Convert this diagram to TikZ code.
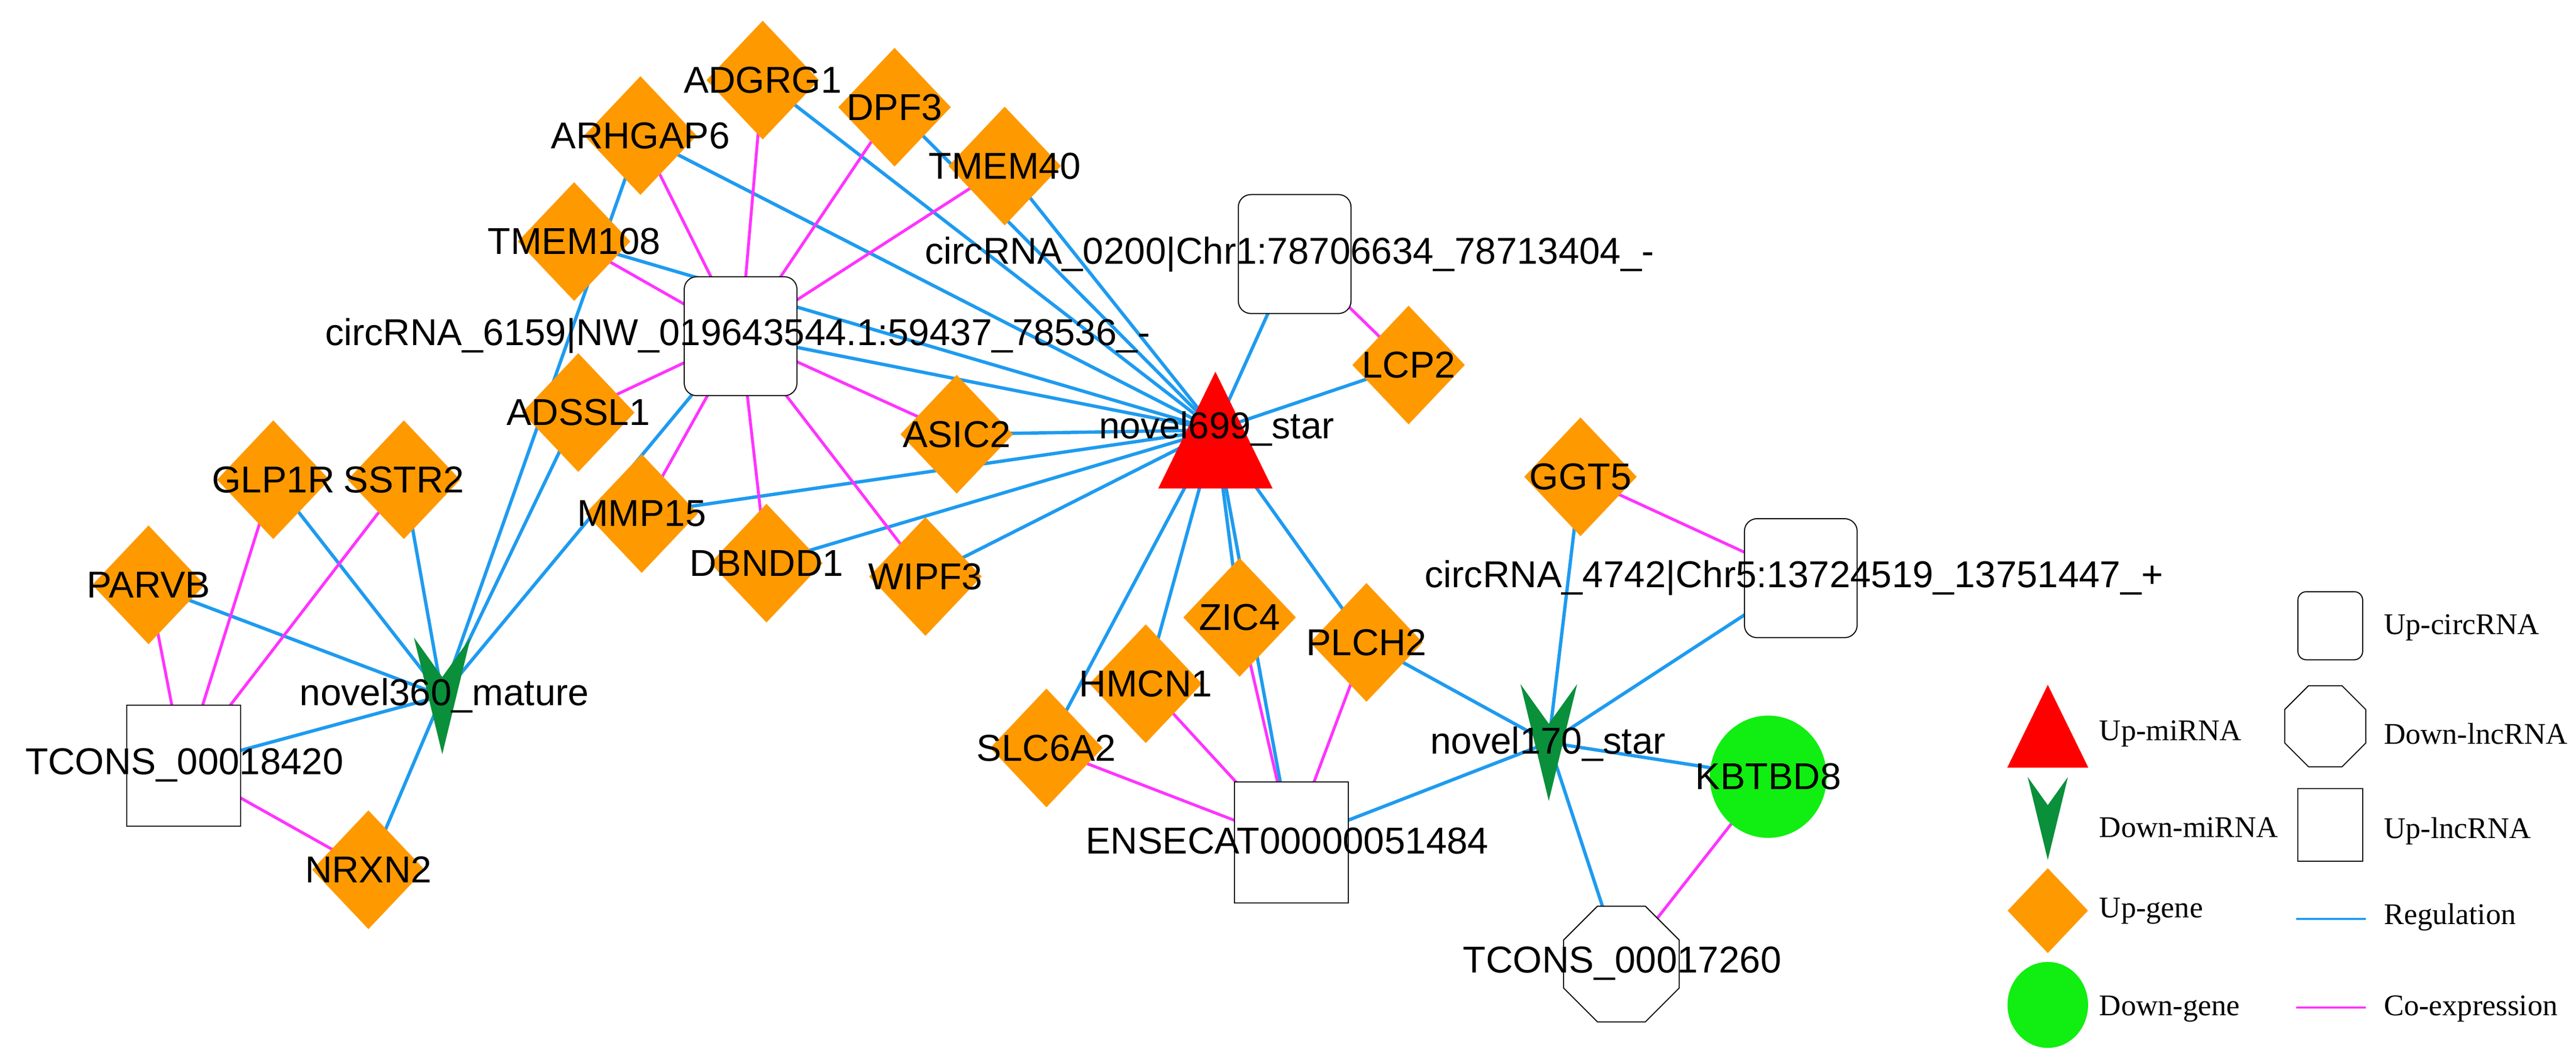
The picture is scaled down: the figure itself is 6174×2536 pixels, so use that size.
\documentclass[tikz,border=0pt]{standalone}
\usepackage{fontspec}
\setmainfont{Liberation Sans}
\newfontfamily\legendfont{Liberation Serif}
\usetikzlibrary{shapes.geometric, backgrounds}
\definecolor{geneorange}{HTML}{FF9900}
\definecolor{downgene}{HTML}{11EE11}
\definecolor{upred}{HTML}{FF0000}
\definecolor{downgreen}{HTML}{0A8F3A}
\definecolor{regblue}{HTML}{1E9BF0}
\definecolor{coexpink}{HTML}{FF33FF}
\tikzstyle{gene} = [diamond, 
fill=geneorange, 
minimum width=2.7cm, 
minimum height=2.85cm, 
inner sep=0pt]
\tikzstyle{dgene} = [ellipse, 
fill=downgene, 
minimum width=2.8cm, 
minimum height=2.93cm, 
inner sep=0pt]
\tikzstyle{circ} = [rectangle, 
rounded corners=0.3cm, 
draw=black, 
line width=0.025cm, 
fill=white, 
minimum width=2.7cm, 
minimum height=2.85cm]
\tikzstyle{lncup} = [rectangle, 
draw=black, 
line width=0.025cm, 
fill=white, 
minimum width=2.73cm, 
minimum height=2.9cm]
\tikzstyle{lncdown} = [regular polygon, 
regular polygon sides=8, 
draw=black, 
line width=0.025cm, 
fill=white, 
minimum size=3cm]
\tikzstyle{mirna} = [inner sep=0pt, minimum size=0pt]
\tikzstyle{lbl} = [font=\fontsize{25.5}{28}\selectfont, inner sep=0pt]
\tikzstyle{leg} = [font=\legendfont\fontsize{20.5}{24}\selectfont, inner sep=0pt, anchor=west]
\tikzstyle{reg} = [line width=0.08cm, draw=regblue]
\tikzstyle{coex} = [line width=0.07cm, draw=coexpink]
\tikzset{upmirna/.pic={\fill[upred] (-137,140) -- (137,140) -- (0,-140) -- cycle;},
  downmirna/.pic={\fill[downgreen] (-68,-140) -- (0,-45) -- (68,-140) -- (0,140) -- cycle;}}

\begin{document}
\begin{tikzpicture}[x=0.01cm, y=-0.01cm]
    \useasboundingbox (0,0) rectangle (6174,2536);
    % miRNAs
    \node (n699) [mirna] at (2913,1031) {};
    \pic at (n699) {upmirna};
    \node (n360) [mirna] at (1060,1668) {};
    \pic at (n360) {downmirna};
    \node (n170) [mirna] at (3712,1780) {};
    \pic at (n170) {downmirna};

    % circRNAs and lncRNAs
    \node (c6159) [circ] at (1775,806) {};
    \node (c0200) [circ] at (3103,609) {};
    \node (c4742) [circ] at (4316,1386) {};
    \node (t18420) [lncup] at (440,1836) {};
    \node (ensecat) [lncup] at (3095,2019) {};
    \node (t17260) [lncdown] at (3886,2311) {};

    % genes
    \node (arhgap6) [gene] at (1535,325) {};
    \node (adgrg1) [gene] at (1828,192) {};
    \node (dpf3) [gene] at (2144,257) {};
    \node (tmem40) [gene] at (2408,398) {};
    \node (tmem108) [gene] at (1376,579) {};
    \node (adssl1) [gene] at (1386,989) {};
    \node (asic2) [gene] at (2293,1041) {};
    \node (mmp15) [gene] at (1538,1231) {};
    \node (dbndd1) [gene] at (1837,1350) {};
    \node (wipf3) [gene] at (2218,1382) {};
    \node (glp1r) [gene] at (655,1150) {};
    \node (sstr2) [gene] at (968,1150) {};
    \node (parvb) [gene] at (356,1402) {};
    \node (nrxn2) [gene] at (883,2085) {};
    \node (lcp2) [gene] at (3376,875) {};
    \node (ggt5) [gene] at (3788,1143) {};
    \node (plch2) [gene] at (3275,1540) {};
    \node (zic4) [gene] at (2971,1480) {};
    \node (hmcn1) [gene] at (2746,1639) {};
    \node (slc6a2) [gene] at (2508,1793) {};
    \node (kbtbd8) [dgene] at (4238,1862) {};

    \begin{scope}[on background layer]
    \foreach \g in {arhgap6,adgrg1,dpf3,tmem40,tmem108,c6159,asic2,mmp15,dbndd1,wipf3,c0200,lcp2,zic4,hmcn1,slc6a2,ensecat,plch2}
        \draw [reg] (n699.center) -- (\g.center);
    \foreach \g in {parvb,glp1r,sstr2,t18420,nrxn2,arhgap6,adssl1,c6159}
        \draw [reg] (n360.center) -- (\g.center);
    \foreach \g in {plch2,ggt5,c4742,ensecat,kbtbd8,t17260}
        \draw [reg] (n170.center) -- (\g.center);
    \foreach \g in {arhgap6,adgrg1,dpf3,tmem40,tmem108,adssl1,asic2,mmp15,dbndd1,wipf3}
        \draw [coex] (c6159.center) -- (\g.center);
    \foreach \g in {parvb,glp1r,sstr2,nrxn2}
        \draw [coex] (t18420.center) -- (\g.center);
    \foreach \g in {slc6a2,hmcn1,zic4,plch2}
        \draw [coex] (ensecat.center) -- (\g.center);
    \draw [coex] (c0200.center) -- (lcp2.center);
    \draw [coex] (ggt5.center) -- (c4742.center);
    \draw [coex] (kbtbd8.center) -- (t17260.center);
    \end{scope}

    % labels
    \node (l6159) [lbl] at (1768,805) {circRNA\_6159|NW\_019643544.1:59437\_78536\_-};
    \node (l0200) [lbl] at (3091,610) {circRNA\_0200|Chr1:78706634\_78713404\_-};
    \node (l4742) [lbl] at (4300,1385) {circRNA\_4742|Chr5:13724519\_13751447\_+};
    \node (l699) [lbl] at (2916,1028) {novel699\_star};
    \node (l360) [lbl] at (1065,1667) {novel360\_mature};
    \node (l170) [lbl] at (3710,1784) {novel170\_star};
    \node (l18420) [lbl] at (442,1834) {TCONS\_00018420};
    \node (l17260) [lbl] at (3888,2309) {TCONS\_00017260};
    \node (lens) [lbl] at (3085,2016) {ENSECAT00000051484};
    \foreach \g/\t in {arhgap6/ARHGAP6,adgrg1/ADGRG1,dpf3/DPF3,tmem40/TMEM40,tmem108/TMEM108,adssl1/ADSSL1,asic2/ASIC2,mmp15/MMP15,dbndd1/DBNDD1,wipf3/WIPF3,glp1r/GLP1R,sstr2/SSTR2,parvb/PARVB,nrxn2/NRXN2,lcp2/LCP2,ggt5/GGT5,plch2/PLCH2,zic4/ZIC4,hmcn1/HMCN1,slc6a2/SLC6A2,kbtbd8/KBTBD8}
        \node [lbl] at (\g) {\t};

    % legend
    \node (kup) [mirna] at (4908,1741) {};
    \pic [scale=0.71] at (kup) {upmirna};
    \node (kdown) [mirna] at (4908,1962) {};
    \pic [scale=0.71] at (kdown) {downmirna};
    \node (kgene) [gene, minimum width=1.93cm, minimum height=2.04cm] at (4908,2183) {};
    \node (kdgene) [dgene, minimum width=1.93cm, minimum height=2.06cm] at (4908,2409) {};
    \node (kcirc) [circ, rounded corners=0.2cm, minimum width=1.55cm, minimum height=1.63cm] at (5585,1500) {};
    \node (klncd) [lncdown, minimum size=2.1cm] at (5573,1741) {};
    \node (klncu) [lncup, minimum width=1.55cm, minimum height=1.74cm] at (5585,1978) {};
    \coordinate (kregA) at (5503,2203);
    \coordinate (kregB) at (5670,2203);
    \coordinate (kcoA) at (5503,2415);
    \coordinate (kcoB) at (5670,2415);
    \draw [line width=0.045cm, regblue] (kregA) -- (kregB);
    \draw [line width=0.045cm, coexpink] (kcoA) -- (kcoB);
    \node [leg] at (5031,1759) {Up-miRNA};
    \node [leg] at (5031,1984) {Down-miRNA};
    \node [leg] at (5031,2184) {Up-gene};
    \node [leg] at (5031,2418) {Down-gene};
    \node [leg] at (5713,1504) {Up-circRNA};
    \node [leg] at (5713,1759) {Down-lncRNA};
    \node [leg] at (5713,1992) {Up-lncRNA};
    \node [leg] at (5713,2198) {Regulation};
    \node [leg] at (5713,2418) {Co-expression};
\end{tikzpicture}
\end{document}
